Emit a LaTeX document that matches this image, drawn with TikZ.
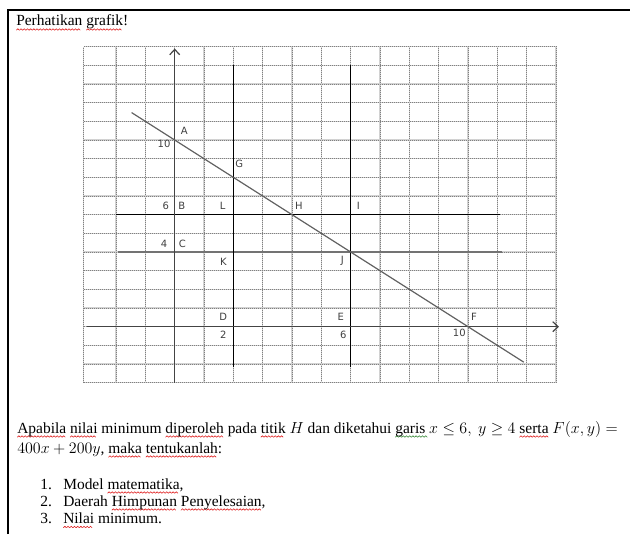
\documentclass[tikz,border=0pt]{standalone}
\usepackage{fontspec}
\setmainfont{Liberation Serif}
\newfontfamily\lblfont{DejaVu Sans}
\usetikzlibrary{arrows.meta}
\definecolor{axisgray}{HTML}{444444}
\definecolor{spellred}{HTML}{E02020}
\definecolor{spellgreen}{HTML}{3A8A3A}
\newsavebox\waveredbox
\newsavebox\wavegreenbox
\newlength\wavelen
\newcommand\makewave[2]{%
  \sbox#1{\pgfpicture
    \pgfsetlinewidth{0.45pt}%
    \color{#2}%
    \pgfpathmoveto{\pgfpoint{0pt}{0pt}}%
    \pgfpathlineto{\pgfpoint{1.2pt}{1.1pt}}%
    \pgfpathlineto{\pgfpoint{2.4pt}{0pt}}%
    \pgfusepath{stroke}%
    \pgfresetboundingbox
    \pgfpathrectangle{\pgfpointorigin}{\pgfpoint{2.4pt}{1.1pt}}%
    \pgfusepath{use as bounding box}%
  \endpgfpicture}}
\newcommand\rwave[1]{\settowidth\wavelen{#1}\leavevmode\rlap{\raisebox{-3.2pt}[0pt][0pt]{\hbox to \wavelen{\leaders\copy\waveredbox\hfill}}}#1}
\newcommand\gwave[1]{\settowidth\wavelen{#1\ }\leavevmode\rlap{\raisebox{-3.2pt}[0pt][0pt]{\hbox to \wavelen{\leaders\copy\wavegreenbox\hfill}}}#1}
\tikzset{
  gridbase/.style={draw=gray!35, line width=1pt},
  griddot/.style={draw=black!50, line width=0.5pt, densely dotted},
  axisline/.style={draw=axisgray, line width=1.05pt, -{Straight Barb[length=4pt,width=7.5pt,line width=0.9pt]}},
  boldline/.style={draw=black, line width=1.05pt},
  grayline/.style={draw=black!55, line width=1.6pt},
  diagline/.style={draw=black!62, line width=0.9pt},
  lbl/.style={font=\lblfont\fontsize{7.5}{9}\selectfont, text=black!75, inner sep=0pt},
  body/.style={font=\fontsize{11.6}{14}\selectfont, inner sep=0pt, anchor=base west},
}
\begin{document}
\makewave{\waveredbox}{spellred}%
\makewave{\wavegreenbox}{spellgreen}%
\begin{tikzpicture}[x=0.75pt,y=-0.75pt]
\useasboundingbox (0,0) rectangle (630,534);
\fill[white] (0,0) rectangle (630,534);
% frame
\draw[line width=1pt] (8,534) -- (8,10) -- (630,10);
% title
\node[body] (title) at (16,26) {\rwave{Perhatikan} \rwave{grafik}!};
% graph
\begin{scope}[shift={(174.7,326.7)}, x=22pt, y=14pt]
  \foreach \i in {-3.1,-2,-1,...,13} {
    \draw[gridbase] (\i,-3) -- (\i,15);
    \draw[griddot] (\i,-3) -- (\i,15);
  }
  \foreach \j in {-3,...,15} {
    \draw[gridbase] (-3.1,\j) -- (13,\j);
    \draw[griddot] (-3.1,\j) -- (13,\j);
  }
  \coordinate (xs) at (-3,0);
  \coordinate (xe) at (13.1,0);
  \coordinate (ys) at (0,-3);
  \coordinate (ye) at (0,14.9);
  \coordinate (v2t) at (2,14);
  \coordinate (v2b) at (2,-2.15);
  \coordinate (v6t) at (6,14);
  \coordinate (v6b) at (6,-2.15);
  \coordinate (h6l) at (-2,6);
  \coordinate (h6r) at (11.1,6);
  \coordinate (h4l) at (-1.92,4);
  \coordinate (h4r) at (11.17,4);
  \coordinate (ds) at (-1.47,11.47);
  \coordinate (de) at (11.9,-1.9);
  \draw[grayline] (h4l) -- (h4r);
  \draw[boldline] (h6l) -- (h6r);
  \draw[boldline] (v2t) -- (v2b);
  \draw[boldline] (v6t) -- (v6b);
  \draw[axisline] (xs) -- (xe);
  \draw[axisline] (ys) -- (ye);
  \draw[diagline] (ds) -- (de);
\end{scope}
% labels
\node[lbl] (lA) at (184.3,131) {A};
\node[lbl] (l10a) at (164,144.3) {10};
\node[lbl] (lG) at (239.3,164.3) {G};
\node[lbl] (l6a) at (165.7,206) {6};
\node[lbl] (lB) at (181.7,206) {B};
\node[lbl] (lL) at (222.7,206) {L};
\node[lbl] (lH) at (299,206) {H};
\node[lbl] (lI) at (358.3,206) {I};
\node[lbl] (l4) at (164,244) {4};
\node[lbl] (lC) at (182.3,244) {C};
\node[lbl] (lK) at (223.3,261.7) {K};
\node[lbl] (lJ) at (342.3,261) {J};
\node[lbl] (lD) at (223.3,316.7) {D};
\node[lbl] (l2) at (223.3,335) {2};
\node[lbl] (lE) at (340.7,316.7) {E};
\node[lbl] (l6b) at (343.3,335) {6};
\node[lbl] (lF) at (474,316.7) {F};
\node[lbl] (l10b) at (459.3,333.3) {10};
% text
\node[body] (line1) at (17,433) {\rwave{Apabila} \rwave{nilai} minimum \rwave{diperoleh} pada \rwave{titik} $H$ dan diketahui \gwave{garis} $x\leq 6,\ y\geq 4$ \rwave{serta} $F(x,y) =$};
\node[body] (line2) at (17,453) {$400x+200y$, \rwave{maka} \rwave{tentukanlah}:};
\node[body] (n1) at (40,489) {1.};
\node[body] (t1) at (63,489) {Model \rwave{matematika},};
\node[body] (n2) at (40,506) {2.};
\node[body] (t2) at (63,506) {Daerah \rwave{Himpunan} \rwave{Penyelesaian},};
\node[body] (n3) at (40,523.5) {3.};
\node[body] (t3) at (63,523.5) {\rwave{Nilai} minimum.};
\end{tikzpicture}
\end{document}
